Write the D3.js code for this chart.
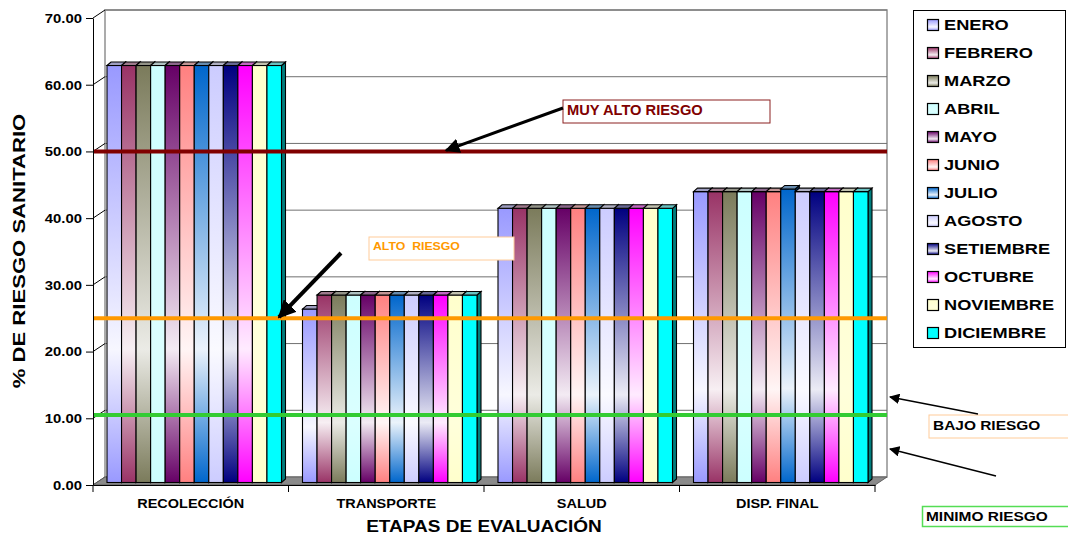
<!DOCTYPE html>
<html>
<head>
<meta charset="utf-8">
<script src="https://cdn.jsdelivr.net/npm/d3@7"></script>
<style>
  body { margin: 0; background: #fff; }
  svg { display: block; font-family: 'Liberation Sans', Arial, sans-serif; font-weight: bold; }
</style>
</head>
<body>
<div id="chart"></div>
<script>
// chart data
const categories = ['RECOLECCIÓN', 'TRANSPORTE', 'SALUD', 'DISP. FINAL'];
const months = ['ENERO', 'FEBRERO', 'MARZO', 'ABRIL', 'MAYO', 'JUNIO', 'JULIO',
                'AGOSTO', 'SETIEMBRE', 'OCTUBRE', 'NOVIEMBRE', 'DICIEMBRE'];
// one row per month: [recoleccion, transporte, salud, disp. final]
const values = [
    [62.5, 26.0, 41.1, 43.6],
    [62.5, 28.1, 41.1, 43.6],
    [62.5, 28.1, 41.1, 43.6],
    [62.5, 28.1, 41.1, 43.6],
    [62.5, 28.1, 41.1, 43.6],
    [62.5, 28.1, 41.1, 43.6],
    [62.5, 28.1, 41.1, 44.0],
    [62.5, 28.1, 41.1, 43.6],
    [62.5, 28.1, 41.1, 43.6],
    [62.5, 28.1, 41.1, 43.6],
    [62.5, 28.1, 41.1, 43.6],
    [62.5, 28.1, 41.1, 43.6]
];
const yTicks = [0, 10, 20, 30, 40, 50, 60, 70];
const riskLevels = [50, 25, 10.5];

// styles
const monthColors = ['#9999FF', '#993366', '#7B7B5B', '#CCFFFF', '#660066', '#FF8080',
                     '#0066CC', '#CCCCFF', '#000080', '#FF00FF', '#FFFFCC', '#00FFFF'];
const monthFade = [0.92, 0.92, 0.85, 0.3, 0.92, 0.92, 0.92, 0.9, 0.92, 0.92, 0.3, 0];
const riskColors = ['#800000', '#FF9900', '#33CC33'];
const dx = 12, dy = 8;      // depth of the walls
const cdx = 4, cdy = 3.5;   // depth of the bars

const svg = d3.select('#chart').append('svg')
    .attr('width', 1068)
    .attr('height', 535);

const y = d3.scaleLinear().domain([0, 70]).range([485, 18]);
const x = d3.scaleBand().domain(categories).range([93, 875]);
const inner = d3.scaleBand().domain(months).range([14, 188.5]);

function stretchText(sel, str, tx, ty, size, sx, anchor) {
    return sel.append('text')
        .attr('transform', `translate(${tx},${ty}) scale(${sx},1)`)
        .attr('font-size', size)
        .attr('text-anchor', anchor || 'start')
        .text(str);
}

// gradients for bars
const defs = svg.append('defs');
months.forEach((m, i) => {
    const c = monthColors[i];
    const mid = d3.interpolateRgb(c, '#ffffff')(monthFade[i]);
    const grad = defs.append('linearGradient')
        .attr('id', 'g' + i)
        .attr('x1', 0).attr('y1', 0).attr('x2', 0).attr('y2', 1);
    grad.append('stop').attr('offset', 0).attr('stop-color', c);
    grad.append('stop').attr('offset', 0.68).attr('stop-color', mid);
    grad.append('stop').attr('offset', 1).attr('stop-color', c);
});

// arrow heads
[['arrowBig', 5], ['arrowMid', 4.5], ['arrowThin', 8]].forEach(([id, s]) => {
    defs.append('marker')
        .attr('id', id)
        .attr('viewBox', '0 0 10 10')
        .attr('refX', 9).attr('refY', 5)
        .attr('markerWidth', s).attr('markerHeight', s)
        .attr('orient', 'auto')
        .append('path')
        .attr('d', 'M0,0 L10,5 L0,10 z')
        .attr('fill', '#000');
});

const x0 = x.range()[0], x1 = x.range()[1];

// back wall
svg.append('rect')
    .attr('x', x0 + dx).attr('y', y(70) - dy)
    .attr('width', x1 - x0).attr('height', y(0) - y(70))
    .attr('fill', '#fff').attr('stroke', '#909090').attr('stroke-width', 1.5);

// gridlines on back wall and left wall
yTicks.filter(v => v > 0).forEach(v => {
    svg.append('line')
        .attr('x1', x0 + dx).attr('x2', x1 + dx)
        .attr('y1', y(v) - dy).attr('y2', y(v) - dy)
        .attr('stroke', '#707070');
    svg.append('line')
        .attr('x1', x0).attr('x2', x0 + dx)
        .attr('y1', y(v)).attr('y2', y(v) - dy)
        .attr('stroke', '#000');
});
svg.append('line')
    .attr('x1', x0).attr('x2', x0 + dx)
    .attr('y1', y(0)).attr('y2', y(0) - dy)
    .attr('stroke', '#000');

// floor
svg.append('path')
    .attr('d', `M${x0},${y(0)} L${x0 + dx},${y(0) - dy} L${x1 + dx},${y(0) - dy} L${x1},${y(0)} Z`)
    .attr('fill', '#8a8a8a').attr('stroke', '#606060');

// bars
const bars = svg.append('g');
categories.forEach((cat, ci) => {
    months.forEach((m, mi) => {
        const v = values[mi][ci];
        const bx = x(cat) + inner(m);
        const w = inner.bandwidth();
        const top = y(v) - 2.5;
        const bottom = y(0) - 2.5;
        const c = monthColors[mi];
        const g = bars.append('g').attr('stroke', '#000').attr('stroke-width', 1.1);
        g.append('path')
            .attr('d', `M${bx + w},${top} L${bx + w + cdx},${top - cdy} L${bx + w + cdx},${bottom - cdy} L${bx + w},${bottom} Z`)
            .attr('fill', d3.color(c).darker(2));
        g.append('rect')
            .attr('x', bx).attr('y', top)
            .attr('width', w).attr('height', bottom - top)
            .attr('fill', `url(#g${mi})`);
        g.append('path')
            .attr('d', `M${bx},${top} L${bx + cdx},${top - cdy} L${bx + w + cdx},${top - cdy} L${bx + w},${top} Z`)
            .attr('fill', d3.interpolateRgb(c, '#a0a0a0')(0.65));
    });
});

// risk level lines
riskLevels.forEach((v, i) => {
    svg.append('line')
        .attr('x1', x0).attr('x2', x1 + dx)
        .attr('y1', y(v)).attr('y2', y(v))
        .attr('stroke', riskColors[i]).attr('stroke-width', 4);
});

// y axis
const yAxis = svg.append('g')
    .attr('transform', `translate(${x0},0)`)
    .call(d3.axisLeft(y).tickValues(yTicks).tickFormat(d3.format('.2f')).tickSize(7).tickSizeOuter(0));
yAxis.attr('font-family', null);
yAxis.select('.domain').attr('stroke', '#000');
yAxis.selectAll('.tick line').attr('stroke', '#000');
yAxis.selectAll('.tick text')
    .attr('font-size', 13.5)
    .attr('fill', '#000')
    .attr('transform', 'scale(1.1,1)');

// x axis
const xAxis = svg.append('g')
    .attr('transform', `translate(0,${y(0)})`)
    .call(d3.axisBottom(x).tickSize(0).tickPadding(14).tickSizeOuter(0));
xAxis.attr('font-family', null);
xAxis.select('.domain').attr('stroke', '#000');
xAxis.selectAll('.tick text')
    .attr('font-size', 12.5)
    .attr('fill', '#000')
    .attr('transform', 'scale(1.16,1)');
[...categories.map(c => x(c)), x1].forEach(px => {
    xAxis.append('line')
        .attr('x1', px).attr('x2', px)
        .attr('y1', 0).attr('y2', 7)
        .attr('stroke', '#000');
});

// axis titles
stretchText(svg, 'ETAPAS DE EVALUACIÓN', 484, 532, 17, 1.12, 'middle');
svg.append('text')
    .attr('transform', 'translate(25,251) rotate(-90) scale(1.3,1)')
    .attr('font-size', 17)
    .attr('text-anchor', 'middle')
    .text('% DE RIESGO SANITARIO');

// annotations
const ann = svg.append('g');
ann.append('rect').attr('x', 563).attr('y', 100).attr('width', 207).attr('height', 23)
    .attr('fill', '#fff').attr('stroke', '#8B2020');
stretchText(ann, 'MUY ALTO RIESGO', 567, 114.5, 14, 1.05).attr('fill', '#800000');
ann.append('line').attr('x1', 563).attr('y1', 108).attr('x2', 446).attr('y2', y(50) - 1)
    .attr('stroke', '#000').attr('stroke-width', 3).attr('marker-end', 'url(#arrowBig)');

ann.append('rect').attr('x', 369).attr('y', 237).attr('width', 145).attr('height', 23)
    .attr('fill', '#fff').attr('stroke', '#FFCC99');
stretchText(ann, 'ALTO  RIESGO', 373, 249.5, 11.5, 1.07)
    .attr('fill', '#FF9900').attr('xml:space', 'preserve');
ann.append('line').attr('x1', 341).attr('y1', 253).attr('x2', 279).attr('y2', y(25) - 1)
    .attr('stroke', '#000').attr('stroke-width', 4).attr('marker-end', 'url(#arrowMid)');

ann.append('rect').attr('x', 929).attr('y', 415).attr('width', 145).attr('height', 23)
    .attr('fill', '#fff').attr('stroke', '#FFCC99');
stretchText(ann, 'BAJO RIESGO', 933, 429.5, 13, 1.19);
ann.append('line').attr('x1', 978).attr('y1', 414).attr('x2', 890).attr('y2', 397)
    .attr('stroke', '#000').attr('stroke-width', 1.3).attr('marker-end', 'url(#arrowThin)');
ann.append('line').attr('x1', 996).attr('y1', 476).attr('x2', 890).attr('y2', 449)
    .attr('stroke', '#000').attr('stroke-width', 1.3).attr('marker-end', 'url(#arrowThin)');

ann.append('rect').attr('x', 922.5).attr('y', 506.5).attr('width', 150).attr('height', 20)
    .attr('fill', '#fff').attr('stroke', '#55DD55').attr('stroke-width', 1.5);
stretchText(ann, 'MINIMO RIESGO', 926, 521, 13, 1.19);

// legend
const legend = svg.append('g');
legend.append('rect')
    .attr('x', 913.5).attr('y', 10.5).attr('width', 152).attr('height', 337)
    .attr('fill', '#fff').attr('stroke', '#000');
months.forEach((m, i) => {
    const cy = 25 + i * 28;
    legend.append('rect')
        .attr('x', 927.5).attr('y', cy - 5.5).attr('width', 11).attr('height', 11)
        .attr('fill', `url(#g${i})`).attr('stroke', '#000').attr('stroke-width', 1.2);
    stretchText(legend, m, 944, cy + 5, 14, 1.3);
});
</script>
</body>
</html>
